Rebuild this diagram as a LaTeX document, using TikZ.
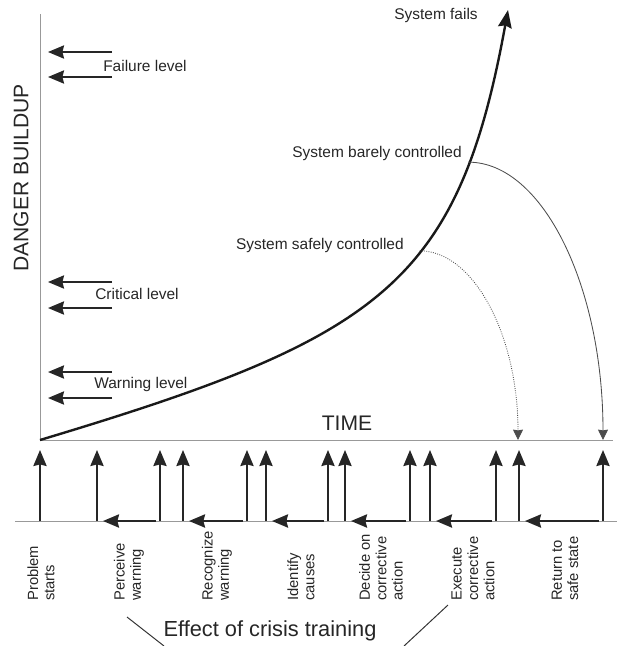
\documentclass[tikz,border=0pt]{standalone}
\usepackage{fontspec}
\setmainfont{Liberation Sans}
\usetikzlibrary{arrows.meta,calc}

\begin{document}
\begin{tikzpicture}[
  x=0.025cm,
  y=-0.025cm,
  font=\fontsize{11}{12}\selectfont,
  axis/.style={
    draw=black!40,
    line width=0.6pt
  },
  bighead/.style={
    -{Stealth[length=4mm,width=3.3mm,inset=0.4mm]}
  },
  lvl/.style={bighead, black!85, line width=1.4pt},
  evt/.style={bighead, black!85, line width=1.4pt},
  lag/.style={bighead, black!85, line width=1.6pt},
  growth/.style={
    black!90,
    line width=1.7pt,
    -{Stealth[length=4.4mm,width=3.4mm,inset=0.5mm]}
  },
  ctrlarc/.style={
    black!70,
    line width=0.6pt,
    -{Stealth[length=2.6mm,width=2.5mm,inset=0.2mm]}
  },
  ctrlsafe/.style={ctrlarc, densely dotted},
  lbl/.style={text=black!85, inner sep=0pt},
  biglbl/.style={lbl, font=\fontsize{15}{17}\selectfont},
  steplbl/.style={
    lbl,
    rotate=90,
    anchor=west,
    align=left,
    font=\fontsize{10.5}{11.6}\selectfont
  },
  trainline/.style={black!80, line width=0.7pt}
]
\useasboundingbox (0,0) rectangle (622,646);

% axes
\coordinate (O) at (40,440);
\coordinate (ytop) at (40,14);
\coordinate (xend) at (613,440);
\draw[axis] (O) -- (ytop);
\draw[axis] (O) -- (xend);

\node[biglbl, rotate=90] (danger) at (21,178) {DANGER BUILDUP};
\node[biglbl] (time) at (347,423) {TIME};

% level arrows
\foreach \y [count=\i] in {52,77,282,308,372,398} {
  \coordinate (lt\i) at (112,\y);
  \coordinate (lh\i) at (48,\y);
  \draw[lvl] (lt\i) -- (lh\i);
}
\node[lbl, anchor=west] (failure) at (103,66) {Failure level};
\node[lbl, anchor=west] (critical) at (95,294) {Critical level};
\node[lbl, anchor=west] (warning) at (94,384) {Warning level};

% danger growth
\coordinate (top) at (508,10);
\draw[growth] (O) .. controls (380,338) and (458,285) .. (top)
  coordinate[pos=0.6] (safe)
  coordinate[pos=0.78] (barely);

\node[lbl, anchor=center] (fails) at (436,15) {System fails};
\node[lbl, anchor=east] (barelylbl) at (462,153) {System barely controlled};
\node[lbl, anchor=east] (safelbl) at (404,245) {System safely controlled};

\coordinate (safeend) at (518,440);
\coordinate (barelyend) at (603,440);
\draw[ctrlsafe] (safe) .. controls ($(safe)+(54,0)$) and (518,335) .. (safeend);
\draw[ctrlarc] (barely) .. controls ($(barely)+(74,0)$) and (603,286) .. (barelyend);

% response steps
\coordinate (bl) at (15,521);
\coordinate (br) at (617,521);
\draw[axis] (bl) -- (br);

\foreach \x [count=\i] in {40,97,160,183,247,266,328,345,410,430,496,519,603} {
  \coordinate (b\i) at (\x,521);
  \coordinate (t\i) at (\x,450);
  \draw[evt] (b\i) -- (t\i);
}

\foreach \a/\b in {2/3,4/5,6/7,8/9,10/11,12/13} {
  \draw[lag] ($(b\b)+(-4,0)$) -- ($(b\a)+(6,0)$);
}

\node[steplbl] (s1) at (41,601) {Problem\\starts};
\node[steplbl] (s2) at (129,601) {Perceive\\warning};
\node[steplbl] (s3) at (217,601) {Recognize\\warning};
\node[steplbl] (s4) at (301,601) {Identify\\causes};
\node[steplbl] (s5) at (381,601) {Decide on\\corrective\\action};
\node[steplbl] (s6) at (473,601) {Execute\\corrective\\action};
\node[steplbl] (s7) at (565,601) {Return to\\safe state};

% crisis training
\node[lbl, font=\fontsize{15.5}{17}\selectfont] (train) at (270,631)
  {Effect of crisis training};
\coordinate (tl1) at (127,617);
\coordinate (tl2) at (164,646);
\coordinate (tr1) at (448,605);
\coordinate (tr2) at (404,646);
\draw[trainline] (tl1) -- (tl2);
\draw[trainline] (tr1) -- (tr2);

\end{tikzpicture}
\end{document}
